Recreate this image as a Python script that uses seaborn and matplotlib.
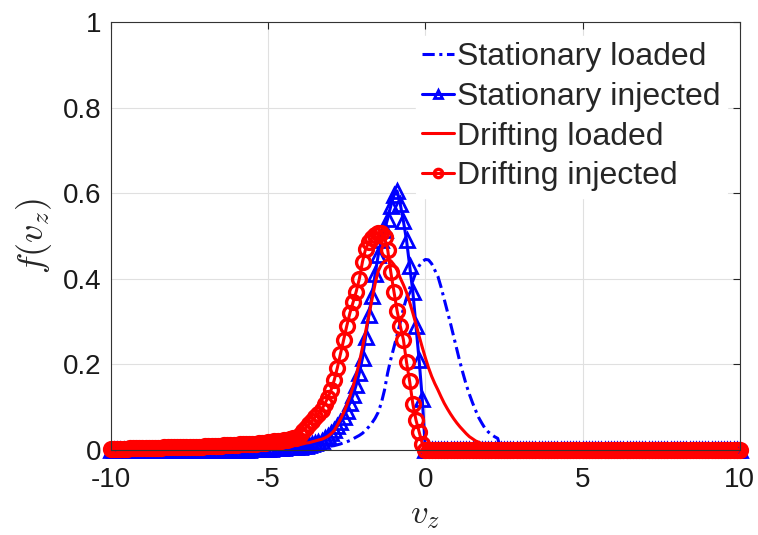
import matplotlib
matplotlib.use("Agg")
import matplotlib.pyplot as plt
import seaborn as sns
import numpy as np
import pandas as pd

# velocity grid (step 0.1 from -10 to 10)
vz = np.round(np.linspace(-10, 10, 201), 1)

# Stationary loaded
stat_loaded = [
    0.000, 0.000, 0.000, 0.000, 0.000, 0.000, 0.000, 0.000, 0.000, 0.000,   # -10.0 .. -9.1
    0.000, 0.000, 0.000, 0.000, 0.000, 0.000, 0.000, 0.000, 0.000, 0.000,   # -9.0 .. -8.1
    0.000, 0.000, 0.000, 0.000, 0.000, 0.000, 0.000, 0.000, 0.000, 0.000,   # -8.0 .. -7.1
    0.000, 0.000, 0.000, 0.000, 0.000, 0.000, 0.000, 0.000, 0.000, 0.000,   # -7.0 .. -6.1
    0.000, 0.000, 0.000, 0.000, 0.000, 0.000, 0.000, 0.000, 0.000, 0.000,   # -6.0 .. -5.1
    0.000, 0.000, 0.000, 0.000, 0.001, 0.001, 0.001, 0.001, 0.001, 0.001,   # -5.0 .. -4.1
    0.001, 0.002, 0.002, 0.003, 0.003, 0.004, 0.005, 0.006, 0.007, 0.008,   # -4.0 .. -3.1
    0.009, 0.010, 0.012, 0.014, 0.017, 0.019, 0.022, 0.026, 0.030, 0.034,   # -3.0 .. -2.1
    0.039, 0.046, 0.054, 0.063, 0.074, 0.088, 0.110, 0.140, 0.180, 0.212,   # -2.0 .. -1.1
    0.240, 0.268, 0.298, 0.330, 0.355, 0.378, 0.395, 0.415, 0.430, 0.440,   # -1.0 .. -0.1
    0.445, 0.444, 0.435, 0.420, 0.405, 0.380, 0.352, 0.325, 0.295, 0.265,   # 0.0 .. 0.9
    0.235, 0.205, 0.178, 0.152, 0.130, 0.110, 0.092, 0.075, 0.062, 0.050,   # 1.0 .. 1.9
    0.042, 0.036, 0.031, 0.027, 0.000, 0.000, 0.000, 0.000, 0.000, 0.000,   # 2.0 .. 2.9
    0.000, 0.000, 0.000, 0.000, 0.000, 0.000, 0.000, 0.000, 0.000, 0.000,   # 3.0 .. 3.9
    0.000, 0.000, 0.000, 0.000, 0.000, 0.000, 0.000, 0.000, 0.000, 0.000,   # 4.0 .. 4.9
    0.000, 0.000, 0.000, 0.000, 0.000, 0.000, 0.000, 0.000, 0.000, 0.000,   # 5.0 .. 5.9
    0.000, 0.000, 0.000, 0.000, 0.000, 0.000, 0.000, 0.000, 0.000, 0.000,   # 6.0 .. 6.9
    0.000, 0.000, 0.000, 0.000, 0.000, 0.000, 0.000, 0.000, 0.000, 0.000,   # 7.0 .. 7.9
    0.000, 0.000, 0.000, 0.000, 0.000, 0.000, 0.000, 0.000, 0.000, 0.000,   # 8.0 .. 8.9
    0.000, 0.000, 0.000, 0.000, 0.000, 0.000, 0.000, 0.000, 0.000, 0.000,   # 9.0 .. 9.9
    0.000,                                                                  # 10.0
]

# Stationary injected
stat_injected = [
    0.000, 0.000, 0.000, 0.000, 0.000, 0.000, 0.000, 0.000, 0.000, 0.000,
    0.000, 0.000, 0.000, 0.000, 0.000, 0.000, 0.000, 0.000, 0.000, 0.000,
    0.000, 0.000, 0.000, 0.000, 0.000, 0.000, 0.000, 0.000, 0.000, 0.000,
    0.000, 0.000, 0.000, 0.000, 0.000, 0.000, 0.000, 0.000, 0.000, 0.000,
    0.001, 0.001, 0.001, 0.001, 0.001, 0.002, 0.002, 0.002, 0.002, 0.002,
    0.003, 0.003, 0.004, 0.004, 0.005, 0.005, 0.006, 0.006, 0.007, 0.007,
    0.008, 0.009, 0.010, 0.012, 0.014, 0.016, 0.019, 0.022, 0.027, 0.033,
    0.040, 0.047, 0.055, 0.065, 0.077, 0.092, 0.110, 0.128, 0.152, 0.180,
    0.215, 0.265, 0.315, 0.360, 0.410, 0.455, 0.490, 0.515, 0.540, 0.570,
    0.595, 0.605, 0.575, 0.535, 0.490, 0.430, 0.370, 0.290, 0.210, 0.120,
    0.000, 0.000, 0.000, 0.000, 0.000, 0.000, 0.000, 0.000, 0.000, 0.000,
    0.000, 0.000, 0.000, 0.000, 0.000, 0.000, 0.000, 0.000, 0.000, 0.000,
    0.000, 0.000, 0.000, 0.000, 0.000, 0.000, 0.000, 0.000, 0.000, 0.000,
    0.000, 0.000, 0.000, 0.000, 0.000, 0.000, 0.000, 0.000, 0.000, 0.000,
    0.000, 0.000, 0.000, 0.000, 0.000, 0.000, 0.000, 0.000, 0.000, 0.000,
    0.000, 0.000, 0.000, 0.000, 0.000, 0.000, 0.000, 0.000, 0.000, 0.000,
    0.000, 0.000, 0.000, 0.000, 0.000, 0.000, 0.000, 0.000, 0.000, 0.000,
    0.000, 0.000, 0.000, 0.000, 0.000, 0.000, 0.000, 0.000, 0.000, 0.000,
    0.000, 0.000, 0.000, 0.000, 0.000, 0.000, 0.000, 0.000, 0.000, 0.000,
    0.000, 0.000, 0.000, 0.000, 0.000, 0.000, 0.000, 0.000, 0.000, 0.000,
    0.000,
]

# Drifting loaded
drift_loaded = [
    0.000, 0.000, 0.000, 0.000, 0.000, 0.000, 0.000, 0.000, 0.000, 0.000,
    0.000, 0.000, 0.000, 0.000, 0.000, 0.000, 0.000, 0.000, 0.000, 0.000,
    0.000, 0.000, 0.000, 0.000, 0.000, 0.000, 0.000, 0.000, 0.000, 0.000,
    0.001, 0.001, 0.001, 0.001, 0.001, 0.001, 0.001, 0.002, 0.002, 0.002,
    0.002, 0.002, 0.003, 0.003, 0.003, 0.004, 0.004, 0.005, 0.005, 0.006,
    0.006, 0.007, 0.007, 0.008, 0.009, 0.009, 0.010, 0.011, 0.012, 0.013,
    0.013, 0.014, 0.016, 0.017, 0.019, 0.021, 0.023, 0.025, 0.028, 0.032,
    0.038, 0.045, 0.058, 0.072, 0.087, 0.105, 0.125, 0.148, 0.175, 0.205,
    0.240, 0.277, 0.315, 0.352, 0.388, 0.418, 0.433, 0.441, 0.444, 0.442,
    0.433, 0.420, 0.402, 0.386, 0.368, 0.345, 0.320, 0.294, 0.266, 0.240,
    0.215, 0.192, 0.172, 0.155, 0.140, 0.124, 0.109, 0.096, 0.084, 0.073,
    0.063, 0.054, 0.046, 0.038, 0.031, 0.026, 0.021, 0.018, 0.014, 0.011,
    0.008, 0.006, 0.004, 0.003, 0.002, 0.001, 0.000, 0.000, 0.000, 0.000,
    0.000, 0.000, 0.000, 0.000, 0.000, 0.000, 0.000, 0.000, 0.000, 0.000,
    0.000, 0.000, 0.000, 0.000, 0.000, 0.000, 0.000, 0.000, 0.000, 0.000,
    0.000, 0.000, 0.000, 0.000, 0.000, 0.000, 0.000, 0.000, 0.000, 0.000,
    0.000, 0.000, 0.000, 0.000, 0.000, 0.000, 0.000, 0.000, 0.000, 0.000,
    0.000, 0.000, 0.000, 0.000, 0.000, 0.000, 0.000, 0.000, 0.000, 0.000,
    0.000, 0.000, 0.000, 0.000, 0.000, 0.000, 0.000, 0.000, 0.000, 0.000,
    0.000, 0.000, 0.000, 0.000, 0.000, 0.000, 0.000, 0.000, 0.000, 0.000,
    0.000,
]

# Drifting injected
drift_injected = [
    0.003, 0.003, 0.003, 0.003, 0.003, 0.003, 0.004, 0.004, 0.004, 0.004,
    0.004, 0.004, 0.005, 0.005, 0.005, 0.005, 0.005, 0.006, 0.006, 0.006,
    0.006, 0.006, 0.007, 0.007, 0.007, 0.007, 0.008, 0.008, 0.008, 0.008,
    0.009, 0.009, 0.009, 0.010, 0.010, 0.010, 0.011, 0.011, 0.011, 0.012,
    0.012, 0.013, 0.013, 0.014, 0.014, 0.015, 0.015, 0.016, 0.017, 0.017,
    0.018, 0.019, 0.020, 0.021, 0.022, 0.023, 0.024, 0.026, 0.027, 0.029,
    0.036, 0.045, 0.052, 0.060, 0.068, 0.077, 0.084, 0.094, 0.108, 0.122,
    0.140, 0.163, 0.192, 0.225, 0.257, 0.290, 0.320, 0.345, 0.370, 0.400,
    0.440, 0.470, 0.485, 0.495, 0.503, 0.508, 0.506, 0.497, 0.468, 0.415,
    0.370, 0.325, 0.290, 0.258, 0.205, 0.160, 0.108, 0.070, 0.042, 0.015,
    0.000, 0.000, 0.000, 0.000, 0.000, 0.000, 0.000, 0.000, 0.000, 0.000,
    0.000, 0.000, 0.000, 0.000, 0.000, 0.000, 0.000, 0.000, 0.000, 0.000,
    0.000, 0.000, 0.000, 0.000, 0.000, 0.000, 0.000, 0.000, 0.000, 0.000,
    0.000, 0.000, 0.000, 0.000, 0.000, 0.000, 0.000, 0.000, 0.000, 0.000,
    0.000, 0.000, 0.000, 0.000, 0.000, 0.000, 0.000, 0.000, 0.000, 0.000,
    0.000, 0.000, 0.000, 0.000, 0.000, 0.000, 0.000, 0.000, 0.000, 0.000,
    0.000, 0.000, 0.000, 0.000, 0.000, 0.000, 0.000, 0.000, 0.000, 0.000,
    0.000, 0.000, 0.000, 0.000, 0.000, 0.000, 0.000, 0.000, 0.000, 0.000,
    0.000, 0.000, 0.000, 0.000, 0.000, 0.000, 0.000, 0.000, 0.000, 0.000,
    0.000, 0.000, 0.000, 0.000, 0.000, 0.000, 0.000, 0.000, 0.000, 0.000,
    0.000,
]

x_ticks = [-10, -5, 0, 5, 10]
x_tick_labels = ["-10", "-5", "0", "5", "10"]
y_ticks = [0, 0.2, 0.4, 0.6, 0.8, 1]
y_tick_labels = ["0", "0.2", "0.4", "0.6", "0.8", "1"]

sns.set_theme(style="whitegrid")
plt.rcParams["font.family"] = ["Liberation Sans", "DejaVu Sans"]
plt.rcParams["mathtext.fontset"] = "cm"
plt.rcParams["axes.unicode_minus"] = False

fig = plt.figure(figsize=(7.58, 5.35), dpi=100)
ax = fig.add_axes([0.1464, 0.159, 0.8296, 0.800])

# Dibujar curvas
sns.lineplot(x=vz, y=stat_loaded, ax=ax, color="blue", lw=2.2,
             linestyle=(0, (4, 1.5, 1, 1.5)), label="Stationary loaded")
sns.lineplot(x=vz, y=stat_injected, ax=ax, color="blue", lw=2.2,
             marker="^", markersize=10, markerfacecolor="none",
             markeredgecolor="blue", markeredgewidth=2.0, clip_on=False,
             label="Stationary injected")
sns.lineplot(x=vz, y=drift_loaded, ax=ax, color="red", lw=2.2,
             label="Drifting loaded")
sns.lineplot(x=vz, y=drift_injected, ax=ax, color="red", lw=2.2,
             marker="o", markersize=10, markerfacecolor="none",
             markeredgecolor="red", markeredgewidth=2.4, clip_on=False,
             label="Drifting injected")

ax.set_xlim(-10, 10)
ax.set_ylim(0, 1)
ax.set_xticks(x_ticks)
ax.set_xticklabels(x_tick_labels, fontsize=20)
ax.set_yticks(y_ticks)
ax.set_yticklabels(y_tick_labels, fontsize=20)
ax.tick_params(direction="in", length=5, width=0.8, color="0.15",
               top=True, right=True, labelcolor="0.1")
ax.tick_params(axis="x", pad=12)
ax.tick_params(axis="y", pad=7)
ax.grid(True, color="0.88", lw=0.8)
for s in ax.spines.values():
    s.set_color("0.2")
    s.set_linewidth(0.8)
ax.set_xlabel(r"$v_z$", fontsize=25, labelpad=4)
ax.set_ylabel(r"$f(v_z)$", fontsize=26, labelpad=6)

leg = ax.legend(loc="upper right", bbox_to_anchor=(0.98, 0.967), fontsize=23,
                frameon=True, facecolor="white", edgecolor="white", framealpha=1,
                handlelength=1.0, handletextpad=0.1, labelspacing=0.3,
                borderaxespad=0.0, borderpad=0.2)
for h in leg.legend_handles:
    h.set_markersize(6)

fig.savefig("out.png", dpi=100)
